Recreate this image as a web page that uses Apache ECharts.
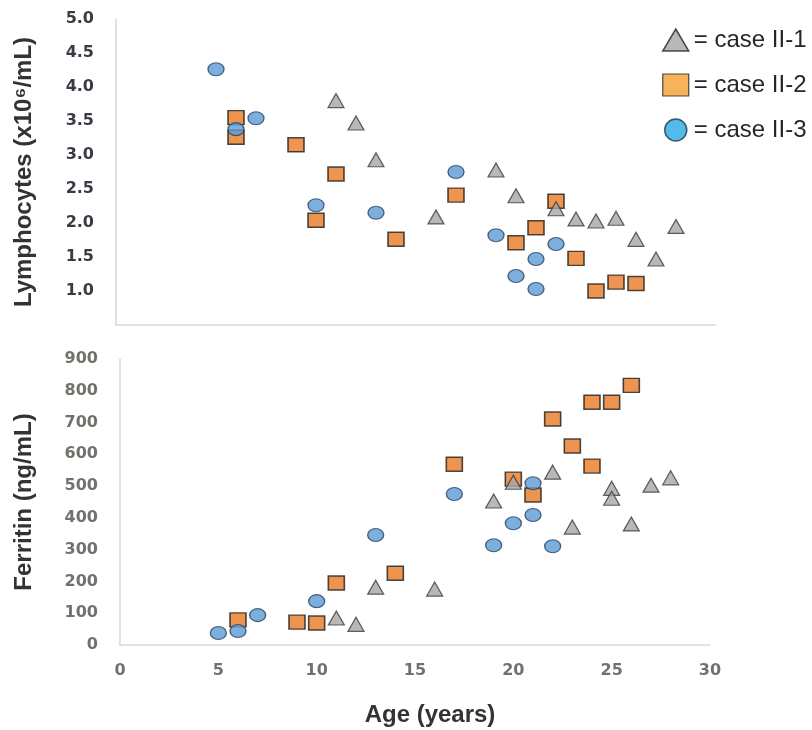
<!DOCTYPE html>
<html>
<head>
<meta charset="utf-8">
<script src="https://cdn.jsdelivr.net/npm/echarts@6/dist/echarts.min.js"></script>
<style>html,body{margin:0;padding:0;background:#fff;}#c{width:812px;height:730px;}</style>
</head>
<body>
<div id="c"></div>
<script>
// ---- Data ----
// Top panel: Lymphocytes (x10^6/mL) vs Age
var ageTriTop = [11, 12, 13, 16, 19, 20, 22, 23, 24, 25, 26, 27, 28];
var lymphTri  = [3.80, 3.47, 2.93, 2.09, 2.78, 2.40, 2.21, 2.06, 2.03, 2.07, 1.76, 1.47, 1.95];
var ageSqTop  = [6, 6, 9, 10, 11, 14, 17, 20, 21, 22, 23, 24, 25, 26];
var lymphSq   = [3.55, 3.26, 3.15, 2.04, 2.72, 1.76, 2.41, 1.71, 1.93, 2.32, 1.48, 1.00, 1.13, 1.11];
var ageCirTop = [5, 6, 7, 10, 13, 17, 19, 20, 21, 21, 22];
var lymphCir  = [4.26, 3.38, 3.54, 2.26, 2.15, 2.75, 1.82, 1.22, 1.47, 1.03, 1.69];

// Bottom panel: Ferritin (ng/mL) vs Age
var ageTriBot = [11, 12, 13, 16, 19, 20, 22, 23, 25, 25, 26, 27, 28];
var ferTri    = [85, 65, 182, 176, 453, 512, 544, 371, 493, 462, 381, 503, 526];
var ageSqBot  = [6, 9, 10, 11, 14, 17, 20, 21, 22, 23, 24, 24, 25, 26];
var ferSq     = [79, 72, 69, 195, 226, 569, 522, 472, 711, 626, 764, 563, 764, 817];
var ageCirBot = [5, 6, 7, 10, 13, 17, 19, 20, 21, 21, 22];
var ferCir    = [38, 44, 94, 138, 346, 475, 314, 383, 509, 409, 311];

var seriesNames = ['case II-1', 'case II-2', 'case II-3'];
var xTicks = [0, 5, 10, 15, 20, 25, 30];

function pairs(xs, ys) { return xs.map(function (x, i) { return [x, ys[i]]; }); }

var tickFontTop = { fontFamily: 'DejaVu Sans', fontWeight: 'bold', fontSize: 16, color: '#3a3a44' };
var tickFontBot = { fontFamily: 'DejaVu Sans', fontWeight: 'bold', fontSize: 16, color: '#74706c' };
var nameFont = { fontFamily: 'Liberation Sans', fontWeight: 'bold', fontSize: 24, color: '#333333' };
var axisLine = { show: true, lineStyle: { color: '#d9d9d9', width: 1.5 } };

var triStyle = { color: '#a6a6a6', borderColor: '#3a3a3a', borderWidth: 1.2 };
var sqStyle  = { color: '#e97a24', borderColor: '#1e1e1e', borderWidth: 1.5 };
var cirStyle = { color: '#5b9bd5', borderColor: '#27415c', borderWidth: 1.2 };

function sc(name, xi, data, symbol, size, style) {
  return { name: name, type: 'scatter', xAxisIndex: xi, yAxisIndex: xi, data: data,
           symbol: symbol, symbolSize: size, itemStyle: style, emphasis: { disabled: true } };
}

var chart = echarts.init(document.getElementById('c'), null, { renderer: 'canvas' });
chart.setOption({
  animation: false,
  backgroundColor: '#ffffff',
  grid: [
    { left: 116, top: 19, width: 600, height: 306 },
    { left: 120, top: 359, width: 590, height: 286 }
  ],
  legend: {
    orient: 'vertical', left: 657, top: 23, itemWidth: 26, itemHeight: 22, itemGap: 21,
    formatter: '= {name}',
    textStyle: { fontFamily: 'Liberation Sans', fontSize: 24, color: '#262626' },
    data: [
      { name: seriesNames[0], icon: 'triangle', itemStyle: { color: '#a6a6a6', borderColor: '#222', borderWidth: 1.5 } },
      { name: seriesNames[1], icon: 'rect', itemStyle: { color: '#f5a02f', borderColor: '#222', borderWidth: 1.2 } },
      { name: seriesNames[2], icon: 'circle', itemStyle: { color: '#29a9e1', borderColor: '#163a52', borderWidth: 1.5 } }
    ]
  },
  xAxis: [
    { type: 'value', gridIndex: 0, min: 0, max: 30, interval: 5,
      axisLine: axisLine, axisTick: { show: false }, axisLabel: { show: false }, splitLine: { show: false } },
    { type: 'value', gridIndex: 1, min: 0, max: 30, interval: 5,
      axisLine: axisLine, axisTick: { show: false }, splitLine: { show: false },
      axisLabel: Object.assign({ margin: 18, formatter: function (v) { return xTicks.indexOf(v) >= 0 ? String(v) : ''; } }, tickFontBot),
      name: 'Age (years)', nameLocation: 'middle', nameGap: 58,
      nameTextStyle: Object.assign({ padding: [0, 0, 0, 30] }, nameFont) }
  ],
  yAxis: [
    { type: 'value', gridIndex: 0, min: 0.5, max: 5.0, interval: 0.5,
      axisLine: axisLine, axisTick: { show: false }, splitLine: { show: false },
      axisLabel: Object.assign({ margin: 22, formatter: function (v) { return Math.abs(v - 0.5) < 1e-6 ? '' : v.toFixed(1); } }, tickFontTop),
      name: 'Lymphocytes (x10\u2076/mL)', nameLocation: 'middle', nameGap: 80, nameTextStyle: nameFont },
    { type: 'value', gridIndex: 1, min: 0, max: 900, interval: 100,
      axisLine: axisLine, axisTick: { show: false }, splitLine: { show: false },
      axisLabel: Object.assign({ margin: 22 }, tickFontBot),
      name: 'Ferritin (ng/mL)', nameLocation: 'middle', nameGap: 84, nameTextStyle: nameFont }
  ],
  series: [
    sc(seriesNames[1], 0, pairs(ageSqTop, lymphSq), 'rect', [16, 14], sqStyle),
    sc(seriesNames[0], 0, pairs(ageTriTop, lymphTri), 'triangle', [16, 14], triStyle),
    sc(seriesNames[2], 0, pairs(ageCirTop, lymphCir), 'circle', [16, 13], cirStyle),
    sc(seriesNames[1], 1, pairs(ageSqBot, ferSq), 'rect', [16, 14], sqStyle),
    sc(seriesNames[0], 1, pairs(ageTriBot, ferTri), 'triangle', [16, 14], triStyle),
    sc(seriesNames[2], 1, pairs(ageCirBot, ferCir), 'circle', [16, 13], cirStyle)
  ]
});
</script>
</body>
</html>
